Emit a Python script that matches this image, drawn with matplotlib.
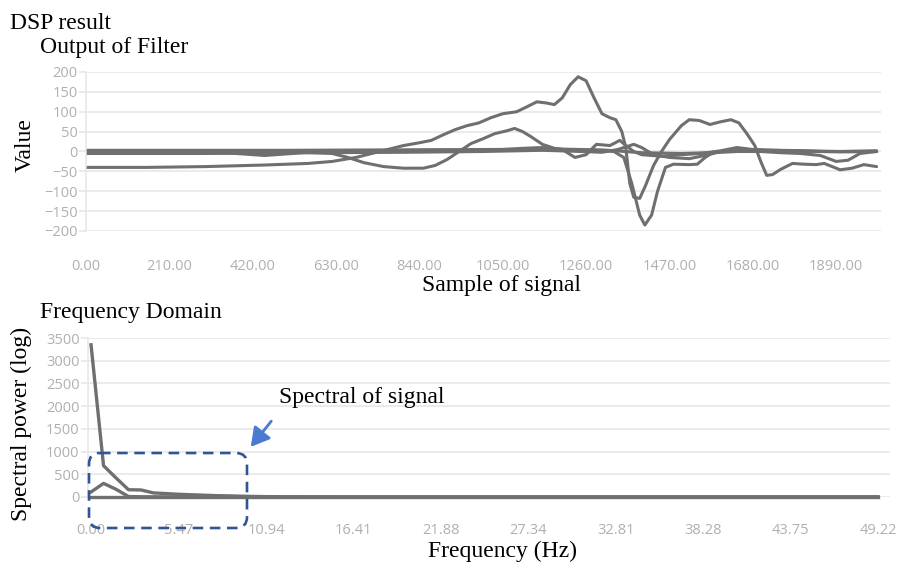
import matplotlib
matplotlib.use("Agg")
import matplotlib.pyplot as plt
import matplotlib.transforms as mtransforms
from matplotlib.patches import FancyBboxPatch, FancyArrowPatch

W, H, DPI = 900, 565, 100

# ── Data: filter output (sample index, value) ─────────────────────────────────

a_x = [0, 150, 300, 450, 560, 620, 680, 720, 760, 800, 840, 870, 900, 930, 960,
       990, 1020, 1050, 1085, 1110, 1136, 1160, 1180, 1200, 1220, 1240, 1260,
       1280, 1300, 1320, 1335, 1350, 1360, 1370, 1380, 1395, 1410, 1430, 1450,
       1470, 1500, 1520, 1545, 1572, 1600, 1625, 1645, 1665, 1685, 1700, 1715,
       1730, 1750, 1780, 1810, 1840, 1860, 1880, 1900, 1930, 1960, 1992]
a_y = [-40, -40, -38, -34, -30, -25, -15, -5, 5, 15, 22, 28, 42, 55, 65,
       72, 85, 95, 100, 112, 125, 122, 118, 135, 168, 188, 178,
       135, 95, 85, 80, 50, 10, -80, -115, -118, -85, -35, 0,
       30, 65, 80, 78, 68, 75, 80, 72, 45, 15, -25, -60,
       -58, -45, -30, -32, -33, -30, -38, -46, -42, -33, -38]

b_x = [0, 300, 550, 620, 660, 700, 750, 800, 850, 880, 910, 940, 970, 1000,
       1030, 1060, 1080, 1100, 1120, 1150, 1180, 1220, 1260, 1300, 1330, 1355,
       1375, 1395, 1408, 1425, 1440, 1460, 1480, 1520, 1540, 1560, 1580, 1620,
       1680, 1750, 1800, 1850, 1900, 1992]
b_y = [-2, -3, -2, -5, -15, -28, -38, -42, -42, -35, -20, 0, 20, 32,
       45, 52, 58, 50, 38, 18, 8, 3, 0, 2, 0, -15,
       -80, -160, -185, -160, -100, -40, -32, -33, -32, -15, -2, 2,
       5, 3, 2, 0, -1, 0]

c_x = [0, 200, 350, 450, 520, 580, 700, 900, 1000, 1100, 1150, 1200, 1232,
       1260, 1286, 1320, 1345, 1360, 1380, 1400, 1450, 1500, 1550, 1600, 1640,
       1680, 1700, 1750, 1850, 1992]
c_y = [2, 2, -3, -10, -5, 0, 2, 3, 2, 8, 10, 5, -15,
       -8, 18, 15, 28, 15, 0, -8, -12, -8, -5, 2, 10,
       5, 3, 0, 0, 0]

d_x = [0, 300, 600, 800, 1000, 1150, 1250, 1300, 1340, 1380, 1400, 1430,
       1470, 1520, 1560, 1600, 1700, 1750, 1800, 1850, 1890, 1920, 1950, 1992]
d_y = [-5, -5, -3, -2, 0, 3, 0, -2, 5, 18, 10, -8,
       -15, -18, -10, 0, 0, -3, -5, -10, -25, -22, -5, 0]

e_x = [0, 500, 1000, 1200, 1300, 1400, 1500, 1600, 1700, 1800, 1900, 1992]
e_y = [3, 3, 5, 6, 4, -3, -5, -2, 3, 2, 0, 2]

filter_series = [(a_x, a_y), (b_x, b_y), (c_x, c_y), (d_x, d_y), (e_x, e_y)]
filter_ticks = [0, 210, 420, 630, 840, 1050, 1260, 1470, 1680, 1890]

# ── Data: spectrum (64 bins, 50/64 Hz apart) ──────────────────────────────────

n_bins = 64
freq = [i * 50 / n_bins for i in range(n_bins)]
spec_1 = [3350, 690, 420, 160, 155, 90, 75, 60, 50, 40, 30, 25, 18, 12, 8, 5,
          4, 3, 3, 3, 2, 2, 2, 2, 2, 2, 2, 2, 2, 2, 2, 2,
          2, 2, 2, 2, 2, 2, 2, 2, 2, 2, 2, 2, 2, 2, 2, 2,
          2, 2, 2, 2, 2, 2, 2, 2, 2, 2, 2, 2, 2, 2, 2, 2]
spec_2 = [110, 300, 170, 10, 5, 4, 3, 3, 2, 2, 2, 2, 1, 1, 1, 1,
          1, 1, 1, 1, 1, 1, 1, 1, 1, 1, 1, 1, 1, 1, 1, 1,
          1, 1, 1, 1, 1, 1, 1, 1, 1, 1, 1, 1, 1, 1, 1, 1,
          1, 1, 1, 1, 1, 1, 1, 1, 1, 1, 1, 1, 1, 1, 1, 1]
spec_3 = [0, 0, 0, 0, 0, 0, 0, 0, 0, 0, 0, 0, 0, 0, 0, 0,
          0, 0, 0, 0, 0, 0, 0, 0, 0, 0, 0, 0, 0, 0, 0, 0,
          0, 0, 0, 0, 0, 0, 0, 0, 0, 0, 0, 0, 0, 0, 0, 0,
          0, 0, 0, 0, 0, 0, 0, 0, 0, 0, 0, 0, 0, 0, 0, 0]
spec_series = [spec_1, spec_2, spec_3]
freq_ticks = [0.00, 5.47, 10.94, 16.41, 21.88, 27.34, 32.81, 38.28, 43.75, 49.22]

# ── Styling ────────────────────────────────────────────────────────────────────

LINE = "#6f6f6f"
GRID = "#e6e6e6"
TICK = "#b0b0b0"
SERIF = ["Liberation Serif", "DejaVu Serif"]
SANS = ["Open Sans", "DejaVu Sans"]

fig = plt.figure(figsize=(W / DPI, H / DPI), dpi=DPI)

# pixel coords, origin top-left
px = mtransforms.Affine2D().scale(1, -1).translate(0, H).scale(1 / DPI) + fig.dpi_scale_trans


def axes_px(left, top, right, bottom):
    return fig.add_axes([left / W, 1 - bottom / H, (right - left) / W, (bottom - top) / H])


def style_axes(ax):
    for s in ("top", "right", "bottom"):
        ax.spines[s].set_visible(False)
    ax.spines["left"].set_color(GRID)
    ax.spines["left"].set_linewidth(1.1)
    ax.grid(axis="y", color=GRID, linewidth=1.1)
    ax.set_axisbelow(True)
    ax.tick_params(axis="y", length=5, color=GRID, width=1.1, pad=1,
                   labelcolor=TICK, labelsize=10.5)
    ax.tick_params(axis="x", length=0, labelcolor=TICK, labelsize=10.5)
    for lab in ax.get_xticklabels() + ax.get_yticklabels():
        lab.set_family(SANS)


# ── Top: filter output ─────────────────────────────────────────────────────────

ax1 = axes_px(86, 72, 881, 231)
for xs, ys in filter_series:
    ax1.plot(xs, ys, color=LINE, linewidth=2.2, solid_capstyle="round",
             solid_joinstyle="round")
ax1.set_xlim(0, 2003)
ax1.set_ylim(-200, 200)
ax1.set_yticks(range(-200, 201, 50))
ax1.set_xticks(filter_ticks)
ax1.set_xticklabels([f"{t:.2f}" for t in filter_ticks])
ax1.tick_params(axis="x", pad=20)
style_axes(ax1)

# ── Bottom: frequency domain ───────────────────────────────────────────────────

ax2 = axes_px(88, 338, 890, 497)
for ys in spec_series:
    ax2.plot(freq, ys, color=LINE, linewidth=2.4, clip_on=False,
             solid_joinstyle="round")
ax2.set_xlim(-0.19, 49.97)
ax2.set_ylim(0, 3500)
ax2.set_yticks(range(0, 3501, 500))
ax2.set_xticks(freq_ticks)
ax2.set_xticklabels([f"{t:.2f}" for t in freq_ticks])
ax2.tick_params(axis="x", pad=19)
style_axes(ax2)

# ── Text ───────────────────────────────────────────────────────────────────────

fs = 17
fig.text(10, 29, "DSP result", transform=px, family=SERIF, fontsize=fs, va="baseline")
fig.text(40, 53, "Output of Filter", transform=px, family=SERIF, fontsize=fs, va="baseline")
fig.text(25, 145, "Value", transform=px, family=SERIF, fontsize=fs,
         rotation=90, ha="center", va="center")
fig.text(501, 285, "Sample of signal", transform=px, family=SERIF, fontsize=fs,
         ha="center", va="center")
fig.text(40, 318, "Frequency Domain", transform=px, family=SERIF, fontsize=fs, va="baseline")
fig.text(21, 424, "Spectral power (log)", transform=px, family=SERIF, fontsize=fs,
         rotation=90, ha="center", va="center")
fig.text(502, 551, "Frequency (Hz)", transform=px, family=SERIF, fontsize=fs,
         ha="center", va="center")
fig.text(279, 398, "Spectral of signal", transform=px, family=SERIF, fontsize=fs,
         ha="left", va="center")

# highlight box + arrow
box = FancyBboxPatch((89, 453), 158, 75, boxstyle="round,pad=0,rounding_size=11",
                     transform=px, fill=False, edgecolor="#2f5597",
                     linewidth=1.9, linestyle=(0, (4, 2.5)), zorder=10)
fig.patches.append(box)
arrow = FancyArrowPatch((273, 419), (249, 449), transform=px, color="#4a7bd0",
                        arrowstyle="-|>,head_length=7,head_width=4",
                        linewidth=2, mutation_scale=1.6, zorder=10)
fig.patches.append(arrow)

fig.savefig("out.png", dpi=DPI)
